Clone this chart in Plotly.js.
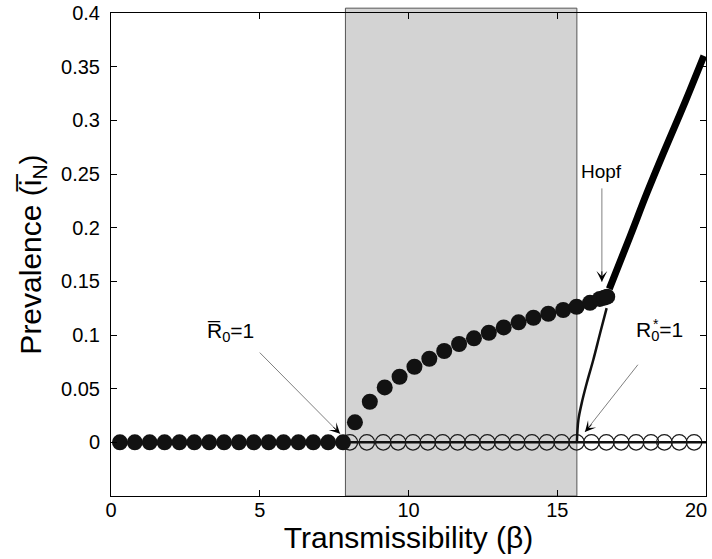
<!DOCTYPE html>
<html><head><meta charset="utf-8">
<script src="https://cdn.plot.ly/plotly-3.0.1.min.js"></script>
<style>html,body{margin:0;padding:0;background:#fff}#chart{width:712px;height:559px}</style>
</head><body><div id="chart"></div>
<script>
// ---- data ----
const xTicks = [0, 5, 10, 15, 20];
const xTickText = ['0', '5', '10', '15', '20'];
const yTicks = [0, 0.05, 0.1, 0.15, 0.2, 0.25, 0.3, 0.35, 0.4];
const yTickText = ['0', '0.05', '0.1', '0.15', '0.2', '0.25', '0.3', '0.35', '0.4'];

const betaR0bar = 7.88;   // R0bar = 1 threshold
const betaR0star = 15.66; // R0* = 1 threshold
const betaHopf = 16.5;

// disease-free equilibrium, stable (filled)
const dfeStableX = [0.3, 0.8, 1.3, 1.8, 2.3, 2.8, 3.3, 3.8, 4.3, 4.8, 5.3, 5.8, 6.3, 6.8, 7.3, 7.8];
const dfeStableY = [0, 0, 0, 0, 0, 0, 0, 0, 0, 0, 0, 0, 0, 0, 0, 0];

// disease-free equilibrium, unstable (open)
const dfeUnstableX = [8.03, 8.6, 9.15, 9.65, 10.15, 10.65, 11.15, 11.65, 12.15, 12.65, 13.15, 13.65,
                      14.15, 14.65, 15.15, 15.65, 16.15, 16.65, 17.15, 17.65, 18.15, 18.6, 19.1, 19.6];
const dfeUnstableY = [0, 0, 0, 0, 0, 0, 0, 0, 0, 0, 0, 0, 0, 0, 0, 0, 0, 0, 0, 0, 0, 0, 0, 0];

// zero line through the unstable DFE
const zeroLineX = [7.88, 20];
const zeroLineY = [0, 0];

// endemic equilibrium, stable (filled)
const endemicX = [8.2, 8.7, 9.2, 9.7, 10.2, 10.7, 11.2, 11.7, 12.2, 12.7, 13.2, 13.7, 14.2, 14.7, 15.2,
                  15.65, 16.1, 16.43, 16.58, 16.68];
const endemicY = [0.0186, 0.0378, 0.0512, 0.0611, 0.0704, 0.0779, 0.0851, 0.0916, 0.0969, 0.1021,
                  0.1071, 0.1118, 0.1161, 0.1198, 0.1233, 0.1263, 0.130, 0.1336, 0.1348, 0.1357];

// unstable branch (thin line)
const unstableX = [15.66, 15.71, 15.82, 15.99, 16.21, 16.44, 16.66];
const unstableY = [0, 0.0207, 0.0363, 0.055, 0.0767, 0.1016, 0.125];

// branch after Hopf (thick line)
const hopfX = [16.75, 17.45, 18.01, 18.56, 19.13, 19.46, 19.93];
const hopfY = [0.143, 0.192, 0.232, 0.269, 0.306, 0.328, 0.360];

const xRange = [0, 20];
const yRange = [-0.05, 0.4];

// ---- chart ----
const FONT = 'Liberation Sans, Arial, Helvetica, sans-serif';
const ink = '#111111';

const traces = [
  {x: zeroLineX, y: zeroLineY, mode: 'lines', line: {color: ink, width: 2.5}, hoverinfo: 'skip'},
  {x: dfeUnstableX, y: dfeUnstableY, mode: 'markers',
   marker: {symbol: 'circle-open', size: 15.5, color: '#1a1a1a', line: {width: 1.3}}},
  {x: dfeStableX, y: dfeStableY, mode: 'markers',
   marker: {symbol: 'circle', size: 16, color: '#121212', line: {width: 0}}},
  {x: endemicX, y: endemicY, mode: 'markers',
   marker: {symbol: 'circle', size: 16, color: '#121212', line: {width: 0}}},
  {x: unstableX, y: unstableY, mode: 'lines', line: {color: ink, width: 2.5, shape: 'spline'}},
  {x: hopfX, y: hopfY, mode: 'lines', line: {color: '#000', width: 7, shape: 'spline'}}
];

function px(b) { return (b - xRange[0]) / (xRange[1] - xRange[0]); }
// keep the last x label inside the figure, as in the reference
const xTickShown = xTickText.map((t, i) => i === xTickText.length - 1 ? t + '\u2002\u2002' : t);

const axisCommon = {
  showgrid: false, zeroline: false, showline: true, linecolor: '#000', linewidth: 1,
  mirror: 'ticks', ticks: 'inside', ticklen: 6, tickcolor: '#000', tickwidth: 1,
  tickfont: {family: FONT, size: 20, color: '#000'}, automargin: false, fixedrange: true,
  ticklabeloverflow: 'allow'
};

const annFont = {family: FONT, size: 21, color: '#000'};
const grayArrow = {text: '', showarrow: true, arrowhead: 0, arrowcolor: '#808080', arrowwidth: 1,
                   axref: 'x', ayref: 'y', xref: 'x', yref: 'y'};
const headArrow = {text: '', showarrow: true, arrowhead: 3, arrowsize: 1.8, arrowcolor: '#000',
                   arrowwidth: 1, xref: 'x', yref: 'y'};

const annotations = [
  // R0bar = 1
  {x: 4.0, y: 0.103, xref: 'x', yref: 'y', text: 'R\u0305<sub>0</sub>=1', showarrow: false, font: annFont},
  Object.assign({x: 7.7, y: 0.008, ax: 4.95, ay: 0.085}, grayArrow),
  Object.assign({x: 7.7, y: 0.008, ax: -8, ay: -8}, headArrow),
  // R0* = 1
  {x: 18.45, y: 0.104, xref: 'x', yref: 'y', text: 'R<sub>0</sub>=1', showarrow: false, font: annFont},
  {x: 18.45, y: 0.104, xref: 'x', yref: 'y', text: '*', showarrow: false,
   font: {family: FONT, size: 14, color: '#000'}, xshift: -4, yshift: 7},
  Object.assign({x: 15.93, y: 0.0096, ax: 17.75, ay: 0.0737}, grayArrow),
  Object.assign({x: 15.93, y: 0.0096, ax: 8, ay: -9}, headArrow),
  // Hopf
  {x: betaHopf, y: 0.252, xref: 'x', yref: 'y', text: 'Hopf', showarrow: false,
   font: {family: FONT, size: 19, color: '#000'}},
  Object.assign({x: betaHopf, y: 0.1495, ax: betaHopf, ay: 0.238}, grayArrow),
  Object.assign({x: betaHopf, y: 0.1495, ax: 0, ay: -12}, headArrow)
];

const layout = {
  width: 712, height: 559,
  margin: {l: 111, r: 6, t: 13, b: 63},
  paper_bgcolor: '#fff', plot_bgcolor: '#fff',
  showlegend: false,
  font: {family: FONT, color: '#000'},
  xaxis: Object.assign({}, axisCommon, {
    range: xRange, tickvals: xTicks, ticktext: xTickShown, ticklabelstandoff: -4,
    title: {text: 'Transmissibility (\u03b2)', font: {family: FONT, size: 30, color: '#000'}, standoff: 3}
  }),
  yaxis: Object.assign({}, axisCommon, {
    range: yRange, tickvals: yTicks, ticktext: yTickText, ticklabelstandoff: 6,
    title: {text: 'Prevalence (i\u0305<sub>N</sub>)', font: {family: FONT, size: 30, color: '#000'}, standoff: 10}
  }),
  shapes: [{
    type: 'rect', xref: 'paper', yref: 'paper', layer: 'below',
    x0: px(betaR0bar), x1: px(betaR0star), y0: 0, y1: 1.01,
    fillcolor: '#d3d3d3', line: {color: '#555', width: 1}
  }],
  annotations: annotations
};

Plotly.newPlot('chart', traces, layout, {displayModeBar: false, staticPlot: true});
</script>
</body></html>
